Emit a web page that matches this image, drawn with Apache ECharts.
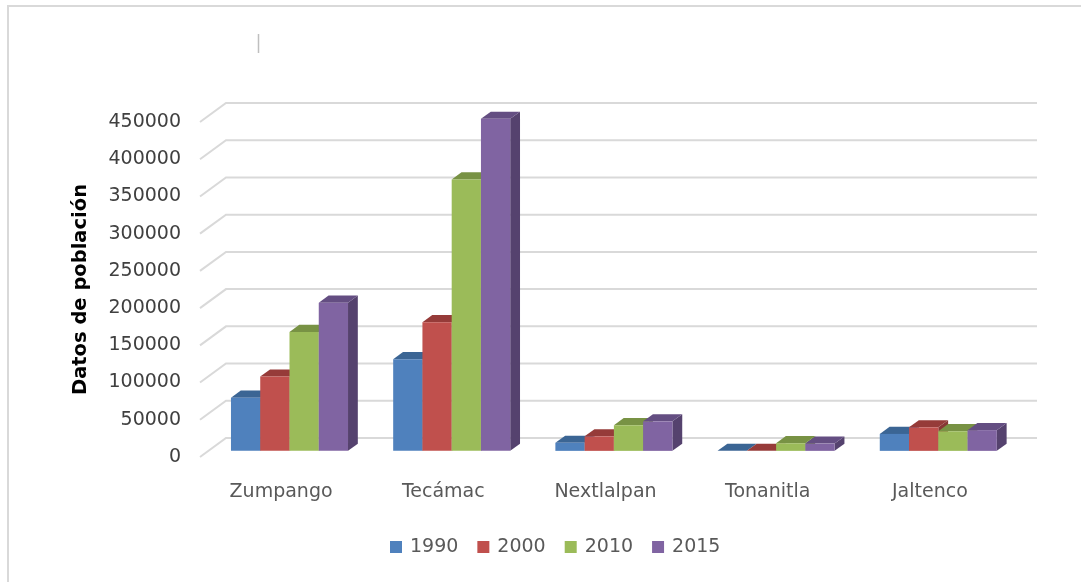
<!DOCTYPE html>
<html>
<head>
<meta charset="utf-8">
<script src="https://cdn.jsdelivr.net/npm/echarts@6/dist/echarts.min.js"></script>
<style>
  html, body { margin: 0; padding: 0; background: #ffffff; }
  #chart { width: 1081px; height: 582px; }
</style>
</head>
<body>
<div id="chart"></div>
<script>
// Population by municipality and census year
const categories = ['Zumpango', 'Tecámac', 'Nextlalpan', 'Tonanitla', 'Jaltenco'];
const years = ['1990', '2000', '2010', '2015'];
const pop1990 = [71413, 123218, 10840, 0, 22803];
const pop2000 = [99774, 172813, 19532, 0, 31629];
const pop2010 = [159647, 364579, 34374, 10216, 26328];
const pop2015 = [199069, 446008, 39666, 9728, 27825];
const yTicks = [0, 50000, 100000, 150000, 200000, 250000, 300000, 350000, 400000, 450000];

const seriesValues = [pop1990, pop2000, pop2010, pop2015];
const frontColors = ['#4F81BD', '#C0504D', '#9BBB59', '#8064A2'];
const topColors = ['#3B6594', '#963B39', '#789244', '#644E82'];
const sideColors = ['#355A86', '#873735', '#6C843F', '#55426E'];

// Oblique projection of the floor depth
const DEPTH_X = 26;
const DEPTH_Y = -19;
const F1 = 0.323;   // front face of a bar, as a fraction of floor depth
const F2 = 0.70;    // back face of a bar
const BAR_FRAC = 0.1804; // one bar's width relative to a category slot

const FONT = 'DejaVu Sans';

function barRenderer(si) {
  return function (params, api) {
    const cat = api.value(0);
    const v = api.value(1);
    const base = api.coord([cat, 0]);
    const top = api.coord([cat, v]);
    const slot = api.size([1, 0])[0];
    const bw = slot * BAR_FRAC;
    const x0 = base[0] - 2 * bw + si * bw + DEPTH_X * F1;
    const yb = base[1] + DEPTH_Y * F1;
    const yt = top[1] + DEPTH_Y * F1;
    const ddx = DEPTH_X * (F2 - F1);
    const ddy = DEPTH_Y * (F2 - F1);
    return {
      type: 'group',
      children: [
        {
          type: 'polygon',
          shape: { points: [[x0 + bw, yb], [x0 + bw + ddx, yb + ddy], [x0 + bw + ddx, yt + ddy], [x0 + bw, yt]] },
          style: { fill: sideColors[si] }
        },
        {
          type: 'polygon',
          shape: { points: [[x0, yt], [x0 + ddx, yt + ddy], [x0 + bw + ddx, yt + ddy], [x0 + bw, yt]] },
          style: { fill: topColors[si] }
        },
        {
          type: 'rect',
          shape: { x: x0, y: yt, width: bw, height: yb - yt },
          style: { fill: frontColors[si] }
        }
      ]
    };
  };
}

// Side-wall diagonal plus back-wall line for each value tick
function gridRenderer(params, api) {
  const cs = params.coordSys;
  const y = api.coord([0, api.value(1)])[1];
  return {
    type: 'polyline',
    shape: { points: [[cs.x, y], [cs.x + DEPTH_X, y + DEPTH_Y], [cs.x + cs.width + DEPTH_X, y + DEPTH_Y]] },
    style: { stroke: '#D9D9D9', lineWidth: 2, fill: null }
  };
}

const series = [{
  name: 'grid',
  type: 'custom',
  renderItem: gridRenderer,
  data: yTicks.map(t => [0, t]),
  encode: { x: 0, y: 1 },
  clip: false,
  silent: true,
  z: 1
}];

years.forEach((yr, si) => {
  series.push({
    name: yr,
    type: 'custom',
    renderItem: barRenderer(si),
    data: seriesValues[si].map((v, ci) => [ci, v]),
    encode: { x: 0, y: 1 },
    itemStyle: { color: frontColors[si] },
    clip: false,
    z: 2
  });
});

const chart = echarts.init(document.getElementById('chart'), null, { renderer: 'canvas' });
chart.setOption({
  animation: false,
  backgroundColor: '#ffffff',
  grid: { left: 200, right: 70, top: 122, bottom: 125 },
  xAxis: {
    type: 'category',
    data: categories,
    axisLine: { show: false },
    axisTick: { show: false },
    splitLine: { show: false },
    axisLabel: { color: '#595959', fontSize: 19, fontFamily: FONT, margin: 26 }
  },
  yAxis: {
    type: 'value',
    min: 0,
    max: 450000,
    interval: 50000,
    name: 'Datos de población',
    nameLocation: 'middle',
    nameRotate: 90,
    nameGap: 109,
    nameTextStyle: { color: '#000000', fontSize: 19.5, fontWeight: 'bold', fontFamily: FONT },
    axisLine: { show: false },
    axisTick: { show: false },
    splitLine: { show: false },
    axisLabel: {
      color: '#404040', fontSize: 19, fontFamily: FONT, margin: 19,
      padding: [3, 0, 0, 0],
      formatter: v => String(v)
    }
  },
  legend: {
    data: years,
    left: 390,
    top: 537,
    padding: 0,
    icon: 'rect',
    itemWidth: 12,
    itemHeight: 12,
    itemGap: 19,
    textStyle: { color: '#595959', fontSize: 19, fontFamily: FONT, lineHeight: 20, padding: [0, 0, 0, 3] }
  },
  graphic: [
    {
      type: 'rect',
      shape: { x: 8, y: 6, width: 1200, height: 700 },
      style: { fill: null, stroke: '#D9D9D9', lineWidth: 2 },
      silent: true
    },
    {
      type: 'line',
      shape: { x1: 258.5, y1: 34, x2: 258.5, y2: 53 },
      style: { stroke: '#BFBFBF', lineWidth: 1.5 },
      silent: true
    }
  ],
  series: series
});
</script>
</body>
</html>
